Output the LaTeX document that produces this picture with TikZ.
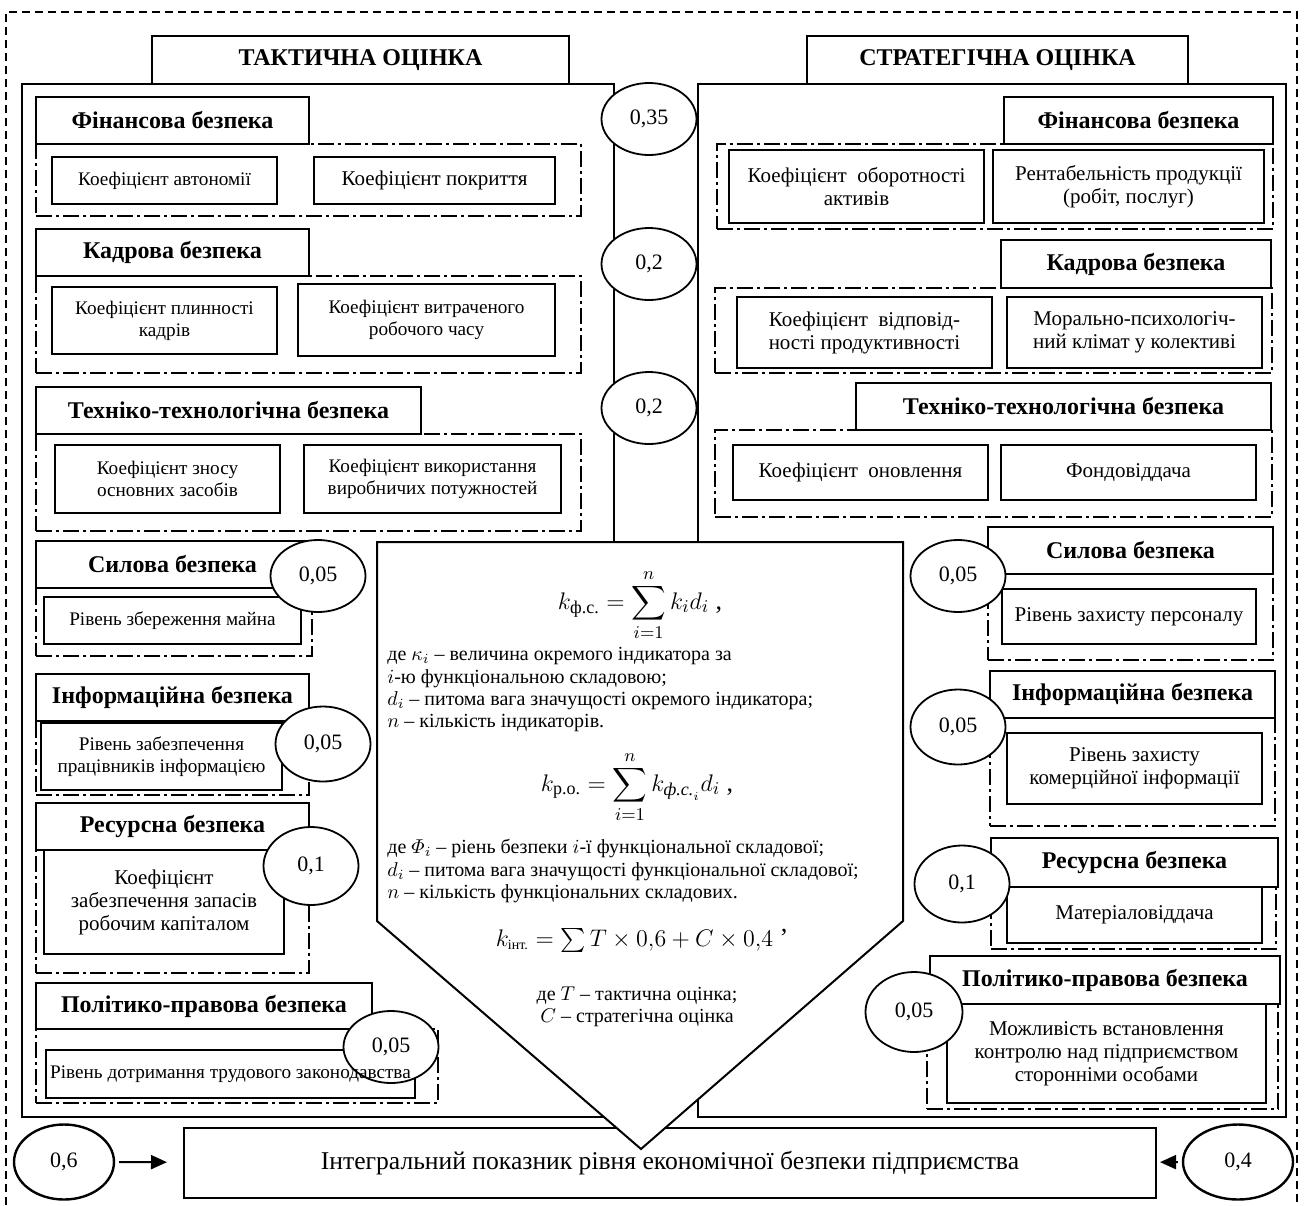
\documentclass[tikz,border=0pt]{standalone}
\usepackage{fontspec}
\setmainfont{Liberation Serif}
\usepackage{amsmath}
\usetikzlibrary{positioning,shapes.geometric,arrows.meta}
\tikzset{wh/.style 2 args={minimum width=#1*0.5pt,minimum height=#2*0.5pt,anchor=north west}}
\tikzset{outerframe/.style={line width=0.8pt,dash pattern=on 4pt off 2.5pt}}
\tikzset{sectbox/.style={draw,line width=1pt,inner sep=0pt}}
\tikzset{titlebox/.style={draw,line width=1pt,fill=white,inner sep=0pt,font=\bfseries\fontsize{12}{14}\selectfont}}
\tikzset{hdrbox/.style={draw,line width=1pt,fill=white,inner sep=0pt,font=\bfseries\fontsize{12}{14}\selectfont}}
\tikzset{grpbox/.style={draw,line width=1pt,inner sep=0pt,dash pattern=on 8pt off 2pt on 1.5pt off 2pt}}
\tikzset{indbox/.style={draw,line width=1pt,fill=white,inner sep=0pt,align=center,font=\fontsize{10.5}{11.5}\selectfont}}
\tikzset{indboxsm/.style={indbox,font=\fontsize{9.6}{11}\selectfont}}
\tikzset{wgt/.style={ellipse,draw,line width=0.9pt,fill=white,inner sep=0pt,minimum width=47.5pt,minimum height=36pt,font=\fontsize{11}{13}\selectfont}}
\tikzset{notes/.style={inner sep=0pt,align=left,font=\fontsize{10}{11.2}\selectfont}}
\tikzset{frml/.style={inner sep=0pt,font=\fontsize{13}{15}\selectfont}}
\tikzset{arr/.style={line width=1pt,-{Triangle[length=8pt,width=7pt]}}}

\begin{document}
\begin{tikzpicture}[x=0.5pt,y=-0.5pt]
    \useasboundingbox (0,0) rectangle (1306,1205);
    \draw[outerframe] (6,1205) -- (6,12) -- (1297,12) -- (1297,1205);

    \node[sectbox,wh={592}{1033}] (tact) at (21,83) {};
    \node[sectbox,wh={588}{1033}] (strat) at (697,83) {};
    \node[titlebox,wh={417}{48}] (tactt) at (151,35) {ТАКТИЧНА ОЦІНКА};
    \node[titlebox,wh={381}{48}] (stratt) at (806,35) {СТРАТЕГІЧНА ОЦІНКА};

%    tactical side
    \node[hdrbox,wh={273}{47}] (tfinh) at (35,96) {Фінансова безпека};
    \node[grpbox,wh={545}{72}] (tfin) at (35,143) {};
    \node[indboxsm,wh={225}{47}] (tfin1) at (51,156) {Коефіцієнт автономії};
    \node[indbox,wh={241}{47}] (tfin2) at (313,156) {Коефіцієнт покриття};

    \node[hdrbox,wh={273}{47}] (tkadh) at (35,228) {Кадрова безпека};
    \node[grpbox,wh={545}{97}] (tkad) at (35,275) {};
    \node[indboxsm,wh={225}{67}] (tkad1) at (51,286) {Коефіцієнт плинності\\кадрів};
    \node[indboxsm,wh={257}{72}] (tkad2) at (297,283) {Коефіцієнт витраченого\\робочого часу};

    \node[hdrbox,wh={385}{47}] (ttech) at (35,386) {Техніко-технологічна безпека};
    \node[grpbox,wh={545}{97}] (ttec) at (35,433) {};
    \node[indboxsm,wh={225}{68}] (ttec1) at (54,444) {Коефіцієнт зносу\\основних засобів};
    \node[indboxsm,wh={257}{68}] (ttec2) at (303,444) {Коефіцієнт використання\\виробничих потужностей};

    \node[hdrbox,wh={273}{47}] (tsilh) at (35,540) {Силова безпека};
    \node[grpbox,wh={276}{68}] (tsil) at (35,587) {};
    \node[indboxsm,wh={257}{47}] (tsil1) at (43,596) {Рівень збереження майна};

    \node[hdrbox,wh={273}{47}] (tinfh) at (35,673) {Інформаційна безпека};
    \node[grpbox,wh={273}{74}] (tinf) at (35,720) {};
    \node[indboxsm,wh={241}{67}] (tinf1) at (40,722) {Рівень забезпечення\\працівників інформацією};

    \node[hdrbox,wh={273}{47}] (tresh) at (35,802) {Ресурсна безпека};
    \node[grpbox,wh={273}{123}] (tres) at (35,849) {};
    \node[indbox,wh={240}{104}] (tres1) at (43,849) {Коефіцієнт\\забезпечення запасів\\робочим капіталом};

    \node[hdrbox,wh={336}{46}] (tpolh) at (35,982) {Політико-правова безпека};
    \node[grpbox,wh={402}{74}] (tpol) at (35,1028) {};
    \node[indboxsm,wh={369}{48}] (tpol1) at (45,1049) {};

%    strategic side
    \node[hdrbox,wh={269}{47}] (sfinh) at (1003,96) {Фінансова безпека};
    \node[grpbox,wh={556}{85}] (sfin) at (716,143) {};
    \node[indbox,wh={255}{73}] (sfin1) at (728,149) {Коефіцієнт~ оборотності\\активів};
    \node[indbox,wh={271}{73}] (sfin2) at (992,149) {Рентабельність продукції\\(робіт, послуг)};

    \node[hdrbox,wh={270}{48}] (skadh) at (1000,239) {Кадрова безпека};
    \node[grpbox,wh={557}{85}] (skad) at (714,287) {};
    \node[indbox,wh={255}{71}] (skad1) at (736,296) {Коефіцієнт~ відповід-\\ності продуктивності};
    \node[indbox,wh={255}{71}] (skad2) at (1006,296) {Морально-психологіч-\\ний клімат у колективі};

    \node[hdrbox,wh={415}{47}] (stech) at (855,382) {Техніко-технологічна безпека};
    \node[grpbox,wh={557}{87}] (stec) at (714,429) {};
    \node[indbox,wh={255}{55}] (stec1) at (732,444) {Коефіцієнт~ оновлення};
    \node[indbox,wh={255}{55}] (stec2) at (1000,444) {Фондовіддача};

    \node[hdrbox,wh={285}{47}] (ssilh) at (987,526) {Силова безпека};
    \node[grpbox,wh={285}{86}] (ssil) at (987,573) {};
    \node[indbox,wh={254}{55}] (ssil1) at (1001,588) {Рівень захисту персоналу};

    \node[hdrbox,wh={285}{47}] (sinfh) at (989,670) {Інформаційна безпека};
    \node[grpbox,wh={285}{108}] (sinf) at (989,717) {};
    \node[indbox,wh={255}{71}] (sinf1) at (1006,732) {Рівень захисту\\комерційної інформації};

    \node[hdrbox,wh={287}{49}] (sresh) at (990,837) {Ресурсна безпека};
    \node[grpbox,wh={285}{62}] (sres) at (990,886) {};
    \node[indbox,wh={255}{56}] (sres1) at (1006,886) {Матеріаловіддача};

    \node[hdrbox,wh={350}{48}] (spolh) at (929,955) {Політико-правова безпека};
    \node[grpbox,wh={351}{105}] (spol) at (926,1003) {};
    \node[indbox,wh={319}{99}] (spol1) at (946,1003) {Можливість встановлення\\контролю над підприємством\\сторонніми особами};

%    weights
    \node[wgt] (w35) at (649,119) {0,35};
    \node[wgt] (w2a) at (649,264) {0,2};
    \node[wgt] (w2b) at (649,408) {0,2};
    \node[wgt] (wtsil) at (318,576) {0,05};
    \node[wgt,minimum height=37.5pt] (wtinf) at (323,744) {0,05};
    \node[wgt,minimum height=39pt] (wtres) at (311,866) {0,1};
    \node[wgt] (wtpol) at (391,1047) {0,05};
    \node[wgt] (wssil) at (958,576) {0,05};
    \node[wgt,minimum height=37.5pt] (wsinf) at (958,727) {0,05};
    \node[wgt,minimum height=38.5pt] (wsres) at (962,884) {0,1};
    \node[wgt,minimum width=48.5pt,minimum height=40pt] (wspol) at (914,1012) {0,05};
    \node[inner sep=0pt,font=\fontsize{9.6}{11}\selectfont] at (tpol1) {Рівень дотримання трудового законодавства};

    \node[draw,line width=1pt,fill=white,inner sep=0pt,wh={972}{70},font=\fontsize{12.8}{14}\selectfont] (intg) at (183,1127) {Інтегральний показник рівня економічної безпеки підприємства};
    \node[wgt,line width=1.2pt,minimum width=50pt,minimum height=37.5pt] (w06) at (64,1162) {0,6};
    \node[wgt,line width=1.2pt,minimum width=55pt,minimum height=37.5pt] (w04) at (1238,1162) {0,4};
        \draw[arr,shorten <=2pt,shorten >=8pt] (w06) -- (intg);
        \draw[arr,shorten <=2pt,shorten >=1.5pt] (w04) -- (intg);

    \draw[line width=1pt,fill=white] (377,542) -- (903,542) -- (903,921) -- (641,1149) -- (377,921) -- cycle;

    \node[frml] (f1) at (640,605) {$\displaystyle k_{\mbox{\fontsize{9}{10}\selectfont ф.с.}} = \sum_{i=1}^{n} k_i d_i$ ,};
    \node[notes,anchor=north west] (n1) at (387,647) {де $\kappa_i$ -- величина окремого індикатора за\\$i$-ю функціональною складовою;\\$d_i$ -- питома вага значущості окремого індикатора;\\$n$ -- кількість індикаторів.};
    \node[frml] (f2) at (637,787) {$\displaystyle k_{\mbox{\fontsize{9}{10}\selectfont р.о.}} = \sum_{i=1}^{n} k_{\mbox{\fontsize{9}{10}\selectfont\itshape ф.с.}_i} d_i$ ,};
    \node[notes,anchor=north west] (n2) at (387,839) {де $\varPhi_i$ -- ріень безпеки $i$-ї функціональної складової;\\$d_i$ -- питома вага значущості функціональної складової;\\$n$ -- кількість функціональних складових.};
    \node[frml] (f3) at (642,940) {$k_{\mbox{\fontsize{7}{8}\selectfont інт.}} = \sum T\times 0{,}6 + C\times 0{,}4$ ’};
    \node[notes,align=center,anchor=north] (n3) at (637,986) {де $T$ -- тактична оцінка;\\$C$ -- стратегічна оцінка};
\end{tikzpicture}
\end{document}
